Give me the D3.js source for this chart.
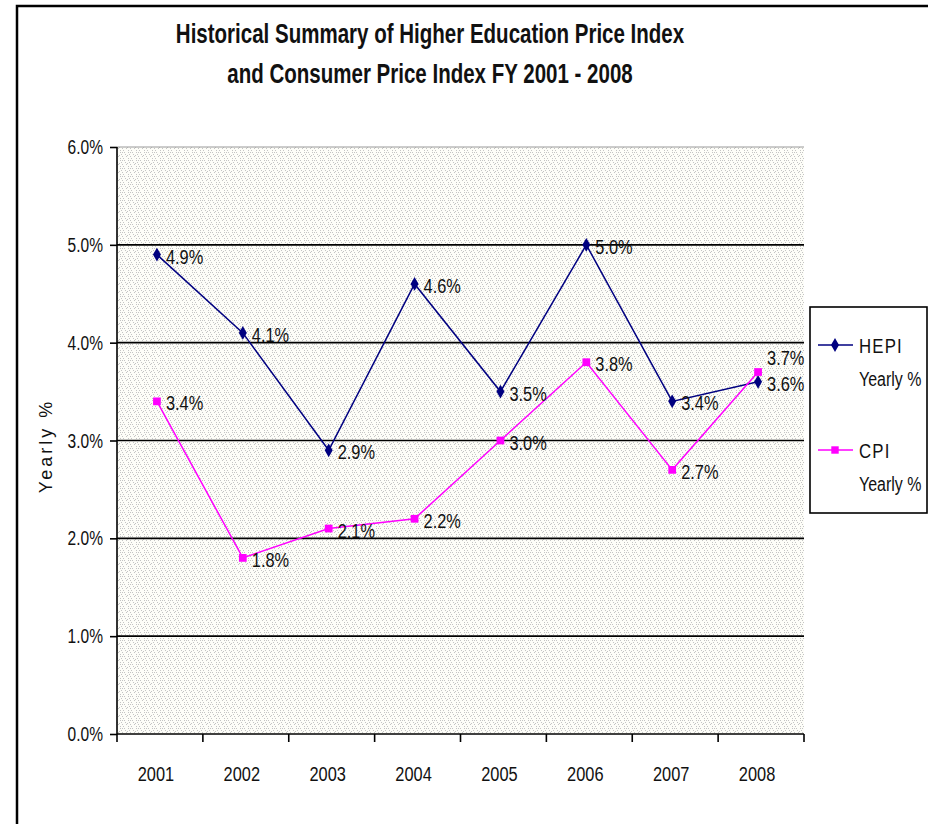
<!DOCTYPE html>
<html>
<head>
<meta charset="utf-8">
<script src="https://cdn.jsdelivr.net/npm/d3@7"></script>
<style>
  body { margin: 0; background: #fff; }
  svg text { font-family: "Liberation Sans Narrow", "Arial Narrow", "Liberation Sans", Arial, sans-serif; }
</style>
</head>
<body>
<div id="chart"></div>
<script>
// Data
var years = ["2001", "2002", "2003", "2004", "2005", "2006", "2007", "2008"];
var hepi = [4.9, 4.1, 2.9, 4.6, 3.5, 5.0, 3.4, 3.6];
var cpi = [3.4, 1.8, 2.1, 2.2, 3.0, 3.8, 2.7, 3.7];
var yTicks = [0, 1, 2, 3, 4, 5, 6];
var titleLines = ["Historical Summary of Higher Education Price Index",
                  "and Consumer Price Index FY 2001 - 2008"];

var W = 928, H = 824;
var plot = {left: 117, top: 147, right: 804, bottom: 734};

var svg = d3.select("#chart")
            .append("svg")
            .attr("width", W)
            .attr("height", H);

// narrow text: no condensed font installed, so squeeze horizontally
function put(parent, px, py, sx) {
    return parent.append("text")
                 .attr("transform", "translate(" + px + "," + py + ") scale(" + sx + ",1)")
                 .attr("fill", "#111");
}

// dotted texture for the plot area
var defs = svg.append("defs");
var pat = defs.append("pattern")
              .attr("id", "dots")
              .attr("width", 8)
              .attr("height", 8)
              .attr("patternUnits", "userSpaceOnUse");
pat.append("rect").attr("width", 8).attr("height", 8).attr("fill", "#fdfdf8");
[[0,0],[2,0],[4,0],[1,2],[5,2],[2,4],[6,4],[0,6],[3,6],[7,3]].forEach(function(p) {
    pat.append("rect")
       .attr("x", p[0]).attr("y", p[1])
       .attr("width", 1).attr("height", 1)
       .attr("fill", "#c4c4c4");
});

// outer chart border (runs off right/bottom)
svg.append("rect")
   .attr("x", 17).attr("y", 6)
   .attr("width", W + 20).attr("height", H + 20)
   .attr("fill", "none")
   .attr("stroke", "#000")
   .attr("stroke-width", 2.5);

// title
titleLines.forEach(function(t, i) {
    put(svg, 430, 43 + i * 40, 0.76)
        .attr("text-anchor", "middle")
        .attr("font-size", 27)
        .attr("font-weight", "bold")
        .text(t);
});

var x = d3.scaleBand()
          .domain(years)
          .range([plot.left, plot.right]);

var y = d3.scaleLinear()
          .domain([0, 6])
          .range([plot.bottom, plot.top]);

// plot background
svg.append("rect")
   .attr("x", plot.left)
   .attr("y", plot.top)
   .attr("width", plot.right - plot.left)
   .attr("height", plot.bottom - plot.top)
   .attr("fill", "url(#dots)");

// gridlines
svg.selectAll("line.grid")
   .data(yTicks.slice(1))
   .enter()
   .append("line")
   .attr("class", "grid")
   .attr("x1", plot.left)
   .attr("x2", plot.right)
   .attr("y1", function(d) { return y(d); })
   .attr("y2", function(d) { return y(d); })
   .attr("stroke", function(d) { return d === 6 ? "#999" : "#000"; })
   .attr("stroke-width", function(d) { return d === 6 ? 1 : 1.6; });

// y axis (lines from d3, labels drawn narrow below)
var yAxis = d3.axisLeft(y)
              .tickValues(yTicks)
              .tickSize(7)
              .tickFormat("");

var gy = svg.append("g")
            .attr("transform", "translate(" + plot.left + ",0)")
            .call(yAxis);
gy.select(".domain").attr("stroke-width", 1.6).attr("d", "M0," + plot.top + "V" + plot.bottom);
gy.selectAll(".tick line").attr("stroke-width", 1.6);
yTicks.forEach(function(v) {
    put(svg, plot.left - 14, y(v) + 7, 0.74)
        .attr("text-anchor", "end")
        .attr("font-size", 21)
        .text(v.toFixed(1) + "%");
});

// x axis with ticks on category boundaries
var gx = svg.append("g")
            .attr("transform", "translate(0," + plot.bottom + ")");
gx.append("line")
  .attr("x1", plot.left).attr("x2", plot.right)
  .attr("stroke", "#000").attr("stroke-width", 1.6);
var bounds = years.map(function(d) { return x(d); }).concat([plot.right]);
gx.selectAll("line.tk")
  .data(bounds)
  .enter()
  .append("line")
  .attr("class", "tk")
  .attr("x1", function(d) { return d; })
  .attr("x2", function(d) { return d; })
  .attr("y1", 0).attr("y2", 8)
  .attr("stroke", "#000").attr("stroke-width", 1.6);
years.forEach(function(yr) {
    put(svg, x(yr) + x.bandwidth() / 2 - 4, plot.bottom + 47, 0.78)
        .attr("text-anchor", "middle")
        .attr("font-size", 21)
        .text(yr);
});

// y axis title
svg.append("text")
   .attr("transform", "translate(52,446) rotate(-90)")
   .attr("text-anchor", "middle")
   .attr("font-size", 18)
   .attr("letter-spacing", 3)
   .attr("fill", "#111")
   .text("Yearly %");

var series = [
    {name: "HEPI", values: hepi, color: "#000080", marker: d3.symbolDiamond},
    {name: "CPI", values: cpi, color: "#ff00ff", marker: d3.symbolSquare}
];

var cx = function(i) { return x(years[i]) + x.bandwidth() / 2 - 3; };

var line = d3.line()
             .x(function(d, i) { return cx(i); })
             .y(function(d) { return y(d); });

series.forEach(function(s, si) {
    svg.append("path")
       .datum(s.values)
       .attr("d", line)
       .attr("fill", "none")
       .attr("stroke", s.color)
       .attr("stroke-width", 1.5);

    svg.selectAll("path.m" + si)
       .data(s.values)
       .enter()
       .append("path")
       .attr("class", "m" + si)
       .attr("transform", function(d, i) {
           return "translate(" + cx(i) + "," + y(d) + ")";
       })
       .attr("d", d3.symbol().type(s.marker).size(si === 0 ? 55 : 60))
       .attr("fill", s.color);
});

// data labels (when both labels fall near each other, lift the higher one)
series.forEach(function(s, si) {
    var other = series[1 - si].values;
    s.values.forEach(function(d, i) {
        var lift = (Math.abs(d - other[i]) < 0.15 && d > other[i]) ? -16 : 0;
        put(svg, cx(i) + 9, y(d) + 9 + lift, 0.78)
            .attr("font-size", 21)
            .text(d.toFixed(1) + "%");
    });
});

// legend
var lg = svg.append("g");
lg.append("rect")
  .attr("x", 810).attr("y", 307)
  .attr("width", 117).attr("height", 206)
  .attr("fill", "#fff")
  .attr("stroke", "#000")
  .attr("stroke-width", 1.6);

series.forEach(function(s, i) {
    var ly = 345 + i * 105;
    lg.append("line")
      .attr("x1", 818).attr("x2", 853)
      .attr("y1", ly).attr("y2", ly)
      .attr("stroke", s.color).attr("stroke-width", 1.5);
    lg.append("path")
      .attr("transform", "translate(835," + ly + ")")
      .attr("d", d3.symbol().type(s.marker).size(55))
      .attr("fill", s.color);
    put(lg, 859, ly + 8, 0.8)
      .attr("font-size", 21)
      .attr("letter-spacing", 1.5)
      .text(s.name);
    put(lg, 859, ly + 41, 0.76)
      .attr("font-size", 21)
      .text("Yearly %");
});
</script>
</body>
</html>
